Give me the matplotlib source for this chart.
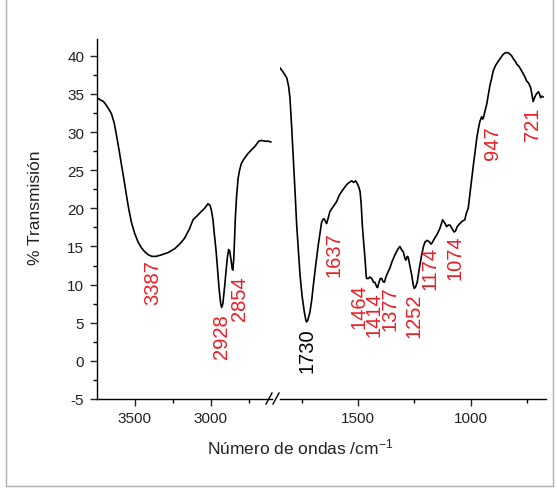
import matplotlib
matplotlib.use("Agg")
import matplotlib.pyplot as plt
from matplotlib.lines import Line2D
from matplotlib.ticker import MultipleLocator, FixedLocator

plt.rcParams['font.family'] = ['Liberation Sans', 'DejaVu Sans']
plt.rcParams['mathtext.fontset'] = 'custom'
plt.rcParams['mathtext.rm'] = 'Liberation Sans'
plt.rcParams['mathtext.it'] = 'Liberation Sans'
plt.rcParams['axes.unicode_minus'] = False

# high wavenumber segment (cm-1, % transmission)
wn_high = [3740, 3725, 3705, 3690, 3670, 3653, 3635, 3620, 3600, 3587, 3570, 3555,
           3540, 3522, 3500, 3478, 3455, 3434, 3410, 3387, 3360, 3324, 3280, 3237,
           3200, 3171, 3140, 3116, 3090, 3061, 3040, 3018, 3005, 2996, 2985, 2978,
           2965, 2956, 2945, 2935, 2928, 2920, 2908, 2898, 2890, 2882, 2875, 2866,
           2858, 2854, 2848, 2842, 2838, 2830, 2820, 2810, 2798, 2780, 2754, 2730,
           2710, 2695, 2684, 2665, 2645, 2620, 2605]
t_high = [34.4, 34.2, 34.0, 33.6, 33.0, 32.4, 31.2, 29.6, 27.3, 25.7, 23.7, 21.8,
          20.0, 18.2, 16.7, 15.6, 14.8, 14.3, 13.9, 13.7, 13.7, 13.9, 14.2, 14.7,
          15.4, 16.1, 17.3, 18.5, 19.0, 19.6, 20.0, 20.6, 20.4, 19.8, 18.5, 17.0,
          14.5, 12.3, 9.5, 7.6, 7.0, 7.5, 9.8, 12.0, 13.6, 14.6, 14.4, 13.2,
          12.0, 11.9, 13.5, 16.5, 18.7, 21.5, 23.9, 25.0, 25.9, 26.5, 27.2, 27.7,
          28.1, 28.5, 28.8, 28.9, 28.8, 28.8, 28.7]

# fingerprint segment
wn_low = [1848, 1835, 1818, 1810, 1804, 1796, 1789, 1781, 1774, 1766, 1759, 1750,
          1740, 1733, 1730, 1725, 1715, 1707, 1700, 1690, 1678, 1670, 1663, 1656,
          1651, 1645, 1641, 1635, 1626, 1610, 1596, 1585, 1574, 1562, 1552, 1540,
          1529, 1520, 1512, 1507, 1498, 1492, 1487, 1482, 1476, 1470, 1465, 1463,
          1455, 1448, 1440, 1432, 1426, 1418, 1414, 1408, 1402, 1396, 1390, 1384,
          1377, 1370, 1359, 1350, 1344, 1337, 1325, 1315, 1308, 1300, 1292, 1288,
          1282, 1278, 1270, 1262, 1256, 1251, 1245, 1238, 1228, 1218, 1210, 1203,
          1193, 1184, 1176, 1173, 1162, 1151, 1138, 1130, 1125, 1118, 1107, 1100,
          1092, 1082, 1074, 1068, 1060, 1048, 1038, 1026, 1020, 1011, 1003, 995,
          988, 980, 973, 966, 959, 951, 947, 944, 936, 929, 920, 914,
          907, 900, 890, 877, 865, 855, 845, 833, 825, 818, 810, 800,
          795, 785, 773, 760, 751, 742, 733, 727, 722, 716, 710, 704,
          699, 694, 689, 684, 678]
t_low = [38.4, 37.9, 37.1, 36.0, 34.5, 30.5, 26.6, 22.0, 17.8, 14.2, 11.2, 8.5,
         6.4, 5.3, 5.1, 5.3, 6.4, 8.0, 9.9, 12.4, 15.2, 16.8, 18.2, 18.6,
         18.6, 18.2, 18.0, 18.6, 19.6, 20.3, 20.9, 21.7, 22.2, 22.7, 23.1, 23.4,
         23.6, 23.4, 23.6, 23.4, 22.8, 22.2, 20.5, 17.8, 15.5, 13.4, 11.2, 10.8,
         10.8, 11.0, 10.8, 10.3, 10.3, 9.7, 9.6, 10.3, 10.8, 10.8, 10.4, 10.3,
         11.0, 11.5, 12.2, 13.0, 13.4, 13.9, 14.6, 15.0, 14.6, 14.3, 13.4, 13.2,
         13.7, 13.6, 12.4, 11.2, 10.0, 9.5, 9.7, 10.3, 12.2, 13.9, 15.0, 15.6,
         15.8, 15.6, 15.3, 15.4, 16.0, 16.5, 17.3, 18.0, 18.5, 18.2, 17.6, 17.8,
         17.8, 17.3, 16.9, 17.0, 17.6, 18.0, 18.3, 18.5, 19.3, 20.0, 22.0, 24.0,
         25.7, 27.5, 29.2, 30.4, 31.4, 32.0, 31.7, 31.8, 32.8, 33.6, 35.2, 36.2,
         37.0, 38.0, 38.7, 39.3, 39.8, 40.2, 40.4, 40.4, 40.2, 40.0, 39.6, 39.2,
         38.9, 38.6, 38.0, 37.3, 36.7, 36.4, 35.8, 34.8, 34.0, 34.5, 34.9, 35.1,
         35.3, 35.0, 34.5, 34.7, 34.6]

# band labels and where they sit (cm-1, %T)
labels_high = ["3387", "2928", "2854"]
labels_low = ["1730", "1637", "1464", "1414", "1377", "1252", "1174", "1074", "947", "721"]
label_pos_high = [(3382, 10.4), (2928, 3.3), (2809, 8.3)]
label_pos_low = [(1728, 1.4), (1608, 14.1), (1499, 7.2), (1431, 6.2), (1358, 7.0),
                 (1252, 6.1), (1181, 12.2), (1070, 13.7), (901, 28.7), (723, 31.2)]

W, H = 557, 489
RED = '#ed1c24'


def rect(x0, y0, x1, y1):
    return [x0 / W, 1 - y1 / H, (x1 - x0) / W, (y1 - y0) / H]


fig = plt.figure(figsize=(W / 100, H / 100), dpi=100)
ax1 = fig.add_axes(rect(96.7, 40, 271.5, 400))
ax2 = fig.add_axes(rect(279.6, 40, 546, 400), sharey=ax1)

ax1.plot(wn_high, t_high, color='black', lw=1.2)
ax2.plot(wn_low, t_low, color='black', lw=1.2)

ax1.set_xlim(3750, 2600)
ax2.set_xlim(1850, 665)
ax1.set_ylim(-5, 42.2)

ax1.xaxis.set_major_locator(FixedLocator([3500, 3000]))
ax1.xaxis.set_minor_locator(FixedLocator([3250, 2750]))
ax2.xaxis.set_major_locator(FixedLocator([1500, 1000]))
ax2.xaxis.set_minor_locator(FixedLocator([1750, 1250, 750]))
ax1.yaxis.set_major_locator(MultipleLocator(5))
ax1.yaxis.set_minor_locator(MultipleLocator(2.5))

for ax in (ax1, ax2):
    ax.spines['top'].set_visible(False)
    ax.spines['right'].set_visible(False)
    ax.spines['bottom'].set_linewidth(1.0)
    ax.spines['left'].set_linewidth(1.0)
    ax.tick_params(which='major', direction='out', length=5, width=1.0, labelsize=11,
                   colors='#222222', pad=4)
    ax.tick_params(which='minor', direction='out', length=3, width=1.0)
    ax.set_facecolor('none')

ax2.spines['left'].set_visible(False)
ax2.tick_params(axis='y', which='both', left=False, labelleft=False)

for txt, (x, y) in zip(labels_high, label_pos_high):
    ax1.text(x, y, txt, rotation=90, ha='center', va='center', fontsize=14.5, color=RED)
for txt, (x, y) in zip(labels_low, label_pos_low):
    c = 'black' if txt == "1730" else RED
    ax2.text(x, y, txt, rotation=90, ha='center', va='center', fontsize=14.5, color=c)

# axis break marks
for x0 in (266, 273):
    fig.add_artist(Line2D([x0 / W, (x0 + 6) / W], [1 - 405 / H, 1 - 394 / H],
                          transform=fig.transFigure, color='black', lw=1.0))

fig.text(300 / W, 1 - 447 / H, "Número de ondas /cm$^{-1}$", ha='center', va='center',
         fontsize=12.5, color='#222222')
fig.text(36 / W, 1 - 208 / H, "% Transmisión", rotation=90, ha='center', va='center',
         fontsize=12.5, color='#222222')

# outer frame
frame_kw = dict(transform=fig.transFigure, color='#b0b0b0', lw=1.0)
fig.add_artist(Line2D([6 / W, 6 / W], [1.0, 1 - 487 / H], **frame_kw))
fig.add_artist(Line2D([6 / W, 553 / W], [1 - 487 / H, 1 - 487 / H], **frame_kw))
fig.add_artist(Line2D([553 / W, 553 / W], [1 - 487 / H, 1.0], **frame_kw))

fig.savefig("out.png", dpi=100)
